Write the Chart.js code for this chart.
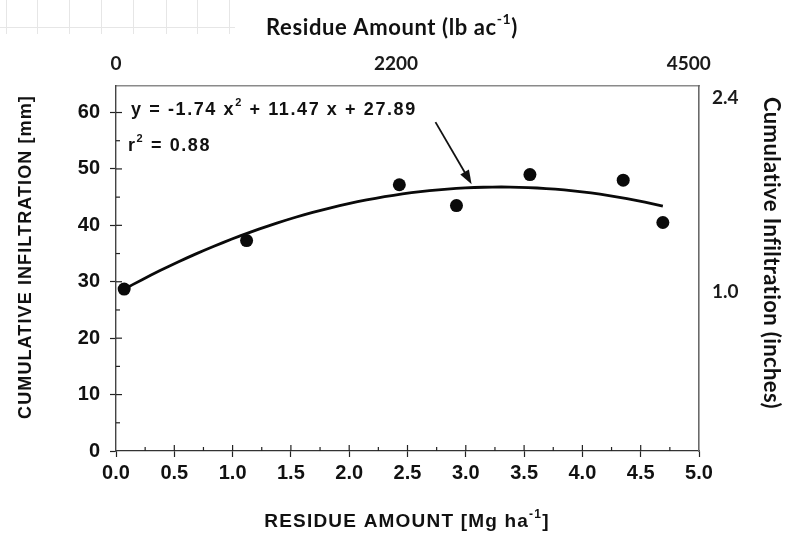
<!DOCTYPE html>
<html>
<head>
<meta charset="utf-8">
<script src="https://cdn.jsdelivr.net/npm/chart.js@4.4.1/dist/chart.umd.min.js"></script>
<style>
  html, body { margin: 0; padding: 0; background: #fff; }
  #wrap { width: 785px; height: 534px; }
</style>
</head>
<body>
<div id="wrap"><canvas id="infChart" width="785" height="534"></canvas></div>
<script>
// residue amount (Mg/ha) and cumulative infiltration (mm)
var residue = [0.07, 1.12, 2.43, 2.92, 3.55, 4.35, 4.69];
var infiltration = [28.7, 37.3, 47.2, 43.5, 49.0, 48.0, 40.5];

// quadratic fit  y = a x^2 + b x + c
var fitCoef = [-1.74, 11.47, 27.89];
var fitR2 = 0.88;
var fitRange = [0.07, 4.69];

// secondary axes (lb/ac on top, inches on the right)
var topTicks = [0, 2200, 4500];
var rightTicks = [1.0, 2.4];

var HELV = "'Liberation Sans', Arial, sans-serif";
var CALI = "Lato, 'Open Sans', sans-serif";

var points = [];
for (var i = 0; i < residue.length; i++) {
  points.push({ x: residue[i], y: infiltration[i] });
}

function fitAt(x) {
  return fitCoef[0] * x * x + fitCoef[1] * x + fitCoef[2];
}

var fitPts = [];
var n = 60;
for (var k = 0; k <= n; k++) {
  var fx = fitRange[0] + (fitRange[1] - fitRange[0]) * k / n;
  fitPts.push({ x: fx, y: fitAt(fx) });
}

function num(v) {
  return Math.abs(v).toFixed(2);
}

// draws a line of text with superscript pieces: parts = [[text, isSup], ...]
function richText(ctx, parts, x, y, size, family, align, spacing) {
  var big = 'bold ' + size + 'px ' + family;
  var small = 'bold ' + Math.round(size * 0.62) + 'px ' + family;
  ctx.letterSpacing = (spacing || 0) + 'px';
  var total = 0;
  parts.forEach(function(p) {
    ctx.font = p[1] ? small : big;
    total += ctx.measureText(p[0]).width;
  });
  var cx = align === 'center' ? x - total / 2 : x;
  ctx.textAlign = 'left';
  ctx.textBaseline = 'middle';
  parts.forEach(function(p) {
    ctx.font = p[1] ? small : big;
    ctx.fillText(p[0], cx, p[1] ? y - size * 0.38 : y);
    cx += ctx.measureText(p[0]).width;
  });
  ctx.letterSpacing = '0px';
}

var decor = {
  id: 'decor',
  beforeDraw: function(chart) {
    // faint sheet grid in the upper left corner
    var ctx = chart.ctx;
    ctx.save();
    ctx.strokeStyle = '#e6e6e6';
    ctx.lineWidth = 1;
    [6, 37, 69, 101, 133, 166, 197, 229].forEach(function(gx) {
      ctx.beginPath();
      ctx.moveTo(gx + 0.5, 0);
      ctx.lineTo(gx + 0.5, 34);
      ctx.stroke();
    });
    ctx.beginPath();
    ctx.moveTo(0, 27.5);
    ctx.lineTo(235, 27.5);
    ctx.stroke();
    ctx.restore();
  },
  afterDraw: function(chart) {
    var ctx = chart.ctx;
    var xs = chart.scales.x, ys = chart.scales.y;
    var area = chart.chartArea;
    ctx.save();

    // inward tick marks, major and minor
    ctx.strokeStyle = '#222';
    ctx.lineWidth = 1.2;
    for (var v = 0.25; v < 5; v += 0.25) {
      var px = xs.getPixelForValue(v);
      var len = (Math.round(v * 4) % 2 === 0) ? 6 : 4;
      ctx.beginPath();
      ctx.moveTo(px, area.bottom);
      ctx.lineTo(px, area.bottom - len);
      ctx.stroke();
    }
    for (var w = 5; w <= 60; w += 5) {
      var py = ys.getPixelForValue(w);
      var l2 = (w % 10 === 0) ? 6 : 4;
      ctx.beginPath();
      ctx.moveTo(area.left, py);
      ctx.lineTo(area.left + l2, py);
      ctx.stroke();
    }

    ctx.fillStyle = '#111';

    // axis titles
    richText(ctx, [['Residue Amount (lb ac', false], ['-1', true], [')', false]], 392, 28, 22, CALI, 'center', 0.6);
    richText(ctx, [['RESIDUE AMOUNT [Mg ha', false], ['-1', true], [']', false]], 407, 522, 19, HELV, 'center', 1.2);

    ctx.save();
    ctx.translate(26, 257);
    ctx.rotate(-Math.PI / 2);
    richText(ctx, [['CUMULATIVE INFILTRATION [mm]', false]], 0, 0, 18, HELV, 'center', 1.1);
    ctx.restore();

    ctx.save();
    ctx.translate(771, 253);
    ctx.rotate(Math.PI / 2);
    richText(ctx, [['Cumulative Infiltration (inches)', false]], 0, 0, 22, CALI, 'center', 0.4);
    ctx.restore();

    // fit equation and r^2
    var eq = [
      ['y = ' + (fitCoef[0] < 0 ? '-' : '') + num(fitCoef[0]) + ' x', false],
      ['2', true],
      [' ' + (fitCoef[1] < 0 ? '-' : '+') + ' ' + num(fitCoef[1]) + ' x ' +
        (fitCoef[2] < 0 ? '-' : '+') + ' ' + num(fitCoef[2]), false]
    ];
    richText(ctx, eq, 131, 110, 18, HELV, 'left', 1.6);
    richText(ctx, [['r', false], ['2', true], [' = ' + fitR2.toFixed(2), false]], 128, 146, 18, HELV, 'left', 1.6);

    // arrow from the equation down to the curve
    var tx = xs.getPixelForValue(2.74), ty = ys.getPixelForValue(58.3);
    var hx = xs.getPixelForValue(3.05), hy = ys.getPixelForValue(47.3);
    var ang = Math.atan2(hy - ty, hx - tx);
    ctx.strokeStyle = '#111';
    ctx.lineWidth = 1.8;
    ctx.beginPath();
    ctx.moveTo(tx, ty);
    ctx.lineTo(hx - 10 * Math.cos(ang), hy - 10 * Math.sin(ang));
    ctx.stroke();
    ctx.beginPath();
    ctx.moveTo(hx, hy);
    ctx.lineTo(hx - 14 * Math.cos(ang) + 5 * Math.sin(ang), hy - 14 * Math.sin(ang) - 5 * Math.cos(ang));
    ctx.lineTo(hx - 14 * Math.cos(ang) - 5 * Math.sin(ang), hy - 14 * Math.sin(ang) + 5 * Math.cos(ang));
    ctx.closePath();
    ctx.fillStyle = '#111';
    ctx.fill();

    ctx.restore();
  }
};

var ctx = document.getElementById('infChart').getContext('2d');
var chart = new Chart(ctx, {
  type: 'scatter',
  data: {
    datasets: [{
      label: 'measured',
      data: points,
      pointRadius: 6.5,
      pointHoverRadius: 6.5,
      backgroundColor: '#0a0a0a',
      borderWidth: 0
    }, {
      label: 'fit',
      data: fitPts,
      showLine: true,
      pointRadius: 0,
      borderColor: '#0a0a0a',
      borderWidth: 2.8,
      tension: 0
    }]
  },
  options: {
    responsive: false,
    animation: false,
    layout: { padding: 0 },
    plugins: {
      legend: { display: false },
      tooltip: { enabled: false }
    },
    scales: {
      x: {
        type: 'linear',
        position: 'bottom',
        min: 0,
        max: 5,
        ticks: {
          stepSize: 0.5,
          autoSkip: false,
          maxRotation: 0,
          padding: 4,
          color: '#111',
          font: { family: HELV, size: 20, weight: 'bold' },
          callback: function(v) { return v.toFixed(1); }
        },
        grid: { drawOnChartArea: false, drawTicks: true, tickLength: 6, color: '#222', tickWidth: 1.2 },
        border: { display: true, color: '#333', width: 1.3 },
        afterFit: function(s) { s.height = 83; s.paddingLeft = 0; s.paddingRight = 0; }
      },
      xTop: {
        type: 'linear',
        position: 'top',
        min: 0,
        max: 4580,
        afterBuildTicks: function(s) { s.ticks = topTicks.map(function(v) { return { value: v }; }); },
        ticks: {
          padding: 11,
          maxRotation: 0,
          color: '#1a1a1a',
          font: { family: CALI, size: 19, weight: 'bold' },
          callback: function(v) { return String(v); }
        },
        grid: { display: false, drawTicks: false },
        border: { display: true, color: '#8a8a8a', width: 1.6 },
        afterFit: function(s) { s.height = 86; s.paddingLeft = 0; s.paddingRight = 0; }
      },
      y: {
        position: 'left',
        min: 0,
        max: 64.7,
        afterBuildTicks: function(s) {
          s.ticks = s.ticks.filter(function(t) { return t.value % 10 === 0; });
        },
        ticks: {
          stepSize: 10,
          padding: 10,
          color: '#111',
          font: { family: HELV, size: 20, weight: 'bold' }
        },
        grid: { drawOnChartArea: false, drawTicks: true, tickLength: 6, color: '#222', tickWidth: 1.2 },
        border: { display: true, color: '#444', width: 1.4 },
        afterFit: function(s) { s.width = 116; s.paddingTop = 0; s.paddingBottom = 0; }
      },
      yRight: {
        position: 'right',
        min: -0.141,
        max: 2.483,
        afterBuildTicks: function(s) { s.ticks = rightTicks.map(function(v) { return { value: v }; }); },
        ticks: {
          padding: 13,
          color: '#1a1a1a',
          font: { family: CALI, size: 19, weight: 'bold' },
          callback: function(v) { return v.toFixed(1); }
        },
        grid: { display: false, drawTicks: false },
        border: { display: true, color: '#6a6a6a', width: 1.6 },
        afterFit: function(s) { s.width = 86; s.paddingTop = 0; s.paddingBottom = 0; }
      }
    }
  },
  plugins: [decor]
});
</script>
</body>
</html>
